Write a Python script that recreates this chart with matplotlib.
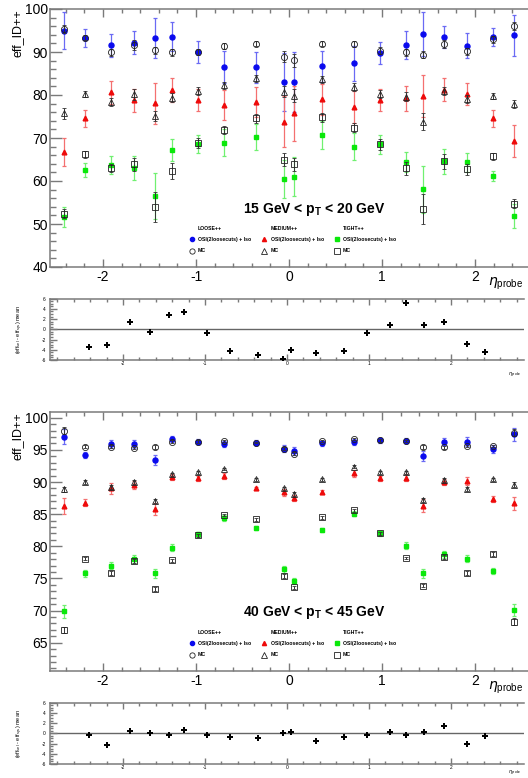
import matplotlib
matplotlib.use("Agg")
import matplotlib.pyplot as plt
from matplotlib.lines import Line2D
from matplotlib.ticker import MultipleLocator

plt.rcParams["font.family"] = ["Liberation Sans", "DejaVu Sans"]
plt.rcParams["axes.unicode_minus"] = False
plt.rcParams["mathtext.fontset"] = "custom"
plt.rcParams["mathtext.rm"] = "Liberation Sans"
plt.rcParams["mathtext.bf"] = "Liberation Sans:bold"

ETA = [-2.42, -2.19, -1.91, -1.665, -1.445, -1.26, -0.975, -0.7, -0.35, -0.05,
       0.05, 0.35, 0.7, 0.975, 1.26, 1.445, 1.665, 1.91, 2.19, 2.42]

# ---- 15 GeV < pT < 20 GeV
lo15 = [94.9, 93.3, 91.6, 92.2, 93.2, 93.6, 90.0, 86.5, 86.4, 83.0, 83.0, 86.7, 87.4, 89.8, 91.6, 94.2, 93.5, 91.5, 93.5, 93.9]
lo15_err = [4.3, 2.1, 2.7, 2.6, 4.7, 3.4, 2.5, 3.7, 3.7, 6.8, 7.0, 3.6, 4.1, 2.6, 3.2, 5.1, 2.6, 2.9, 2.1, 4.8]
lo15_mc = [95.3, 93.3, 89.9, 91.6, 90.4, 89.9, 90.0, 91.4, 91.9, 88.9, 88.1, 91.9, 91.8, 90.3, 89.9, 89.4, 91.9, 90.2, 93.0, 96.0]
lo15_mc_err = [0.9, 0.6, 0.8, 1.2, 0.8, 0.8, 0.7, 0.6, 0.6, 1.3, 1.5, 0.6, 0.7, 0.8, 0.9, 0.8, 0.9, 0.8, 0.8, 0.9]
me15 = [66.7, 74.6, 80.6, 78.8, 78.1, 81.2, 78.8, 77.7, 78.4, 73.8, 75.7, 79.0, 77.3, 78.8, 79.2, 79.8, 81.2, 80.2, 74.6, 69.3]
me15_err = [3.3, 2.0, 2.6, 2.7, 4.8, 2.8, 2.5, 3.5, 3.5, 6.0, 6.5, 3.6, 3.7, 2.5, 2.9, 4.9, 2.7, 2.6, 2.0, 3.8]
me15_mc = [75.7, 80.2, 78.4, 80.2, 75.1, 79.4, 80.9, 82.3, 83.9, 80.8, 79.8, 83.7, 81.8, 80.2, 79.6, 73.8, 80.9, 79.0, 79.8, 77.9]
me15_mc_err = [1.2, 0.7, 0.9, 1.3, 1.2, 1.0, 0.9, 0.8, 0.8, 1.3, 1.5, 0.8, 0.9, 0.9, 1.0, 2.0, 1.0, 0.9, 0.7, 1.0]
ti15 = [51.6, 62.6, 63.7, 63.1, 56.5, 67.2, 68.6, 68.9, 70.3, 60.5, 61.0, 70.7, 68.0, 68.5, 64.5, 58.1, 64.6, 64.4, 61.2, 51.9]
ti15_err = [2.4, 1.7, 2.0, 2.8, 5.4, 2.6, 2.0, 3.1, 3.0, 4.5, 4.6, 3.3, 3.1, 2.2, 2.3, 5.5, 2.9, 2.2, 1.2, 2.8]
ti15_mc = [52.4, 66.2, 63.0, 63.9, 53.9, 62.3, 68.9, 71.9, 74.6, 65.0, 63.9, 74.8, 72.4, 68.5, 63.0, 53.4, 64.6, 62.7, 65.8, 54.7]
ti15_mc_err = [1.0, 0.8, 1.0, 1.5, 3.5, 1.8, 1.2, 1.0, 1.0, 1.5, 1.5, 1.0, 1.0, 1.2, 1.5, 3.5, 1.7, 1.2, 0.8, 1.0]
diff15 = [-3.4, -3.1, 1.5, -0.6, 2.75, 3.45, -0.65, -4.2, -5.1, -5.9, -4.05, -4.7, -4.25, -0.65, 0.85, 5.2, 0.8, 1.5, -2.95, -4.4]

# ---- 40 GeV < pT < 45 GeV
lo40 = [97.05, 94.2, 95.9, 95.9, 93.4, 96.7, 96.3, 95.9, 96.1, 95.2, 94.8, 96.0, 96.2, 96.5, 96.4, 94.1, 96.3, 96.3, 95.1, 97.4]
lo40_err = [1.2, 0.5, 0.6, 0.6, 0.8, 0.5, 0.4, 0.5, 0.4, 0.5, 0.6, 0.4, 0.5, 0.4, 0.4, 0.8, 0.5, 0.7, 0.6, 1.0]
lo40_mc = [98.0, 95.5, 95.5, 95.3, 95.5, 96.3, 96.3, 96.4, 96.1, 95.2, 94.4, 96.4, 96.7, 96.5, 96.4, 95.4, 95.4, 95.6, 95.6, 97.7]
lo40_mc_err = [0.5, 0.2, 0.2, 0.2, 0.3, 0.2, 0.2, 0.2, 0.1, 0.2, 0.2, 0.1, 0.2, 0.2, 0.2, 0.3, 0.2, 0.2, 0.2, 0.5]
me40 = [86.3, 86.8, 89.0, 89.5, 85.8, 90.8, 90.6, 90.9, 89.0, 88.4, 87.5, 88.5, 91.35, 90.6, 90.7, 86.3, 90.05, 90.2, 87.35, 86.7]
me40_err = [1.2, 0.6, 0.8, 0.6, 0.9, 0.5, 0.4, 0.5, 0.3, 0.5, 0.5, 0.3, 0.5, 0.4, 0.5, 1.0, 0.5, 0.6, 0.5, 1.0]
me40_mc = [88.9, 90.05, 89.2, 90.0, 87.0, 91.2, 91.5, 92.0, 90.4, 89.0, 88.1, 90.4, 92.4, 91.5, 91.5, 87.2, 90.3, 88.9, 90.4, 89.6]
me40_mc_err = [0.4, 0.3, 0.3, 0.3, 0.3, 0.2, 0.2, 0.2, 0.2, 0.3, 0.3, 0.2, 0.2, 0.2, 0.2, 0.3, 0.3, 0.3, 0.3, 0.4]
ti40 = [69.9, 75.8, 77.0, 78.0, 75.8, 79.8, 81.9, 84.4, 82.8, 76.4, 74.6, 82.5, 85.1, 82.0, 80.1, 75.8, 78.75, 78.1, 76.2, 70.1]
ti40_err = [1.0, 0.5, 0.6, 0.6, 0.7, 0.5, 0.4, 0.4, 0.3, 0.5, 0.5, 0.3, 0.4, 0.4, 0.5, 0.7, 0.5, 0.6, 0.5, 1.0]
ti40_mc = [67.0, 78.1, 75.8, 77.7, 73.4, 77.8, 81.7, 84.9, 84.2, 75.4, 73.6, 84.5, 85.6, 82.0, 78.2, 73.9, 78.3, 75.8, 78.75, 68.3]
ti40_mc_err = [0.5, 0.3, 0.3, 0.3, 0.3, 0.2, 0.2, 0.2, 0.2, 0.3, 0.3, 0.2, 0.2, 0.2, 0.2, 0.3, 0.3, 0.3, 0.3, 0.5]
diff40 = [-0.25, -2.3, 0.5, 0.1, -0.25, 0.65, -0.25, -0.65, -1.0, 0.1, 0.2, -1.45, -0.65, -0.25, 0.35, -0.25, 0.2, 1.4, -2.1, -0.6]

MENUS = ["LOOSE++", "MEDIUM++", "TIGHT++"]
DATA_LABEL = "OSI(2loosecuts) + Iso"
COLORS = ["#0a0aee", "#ee0a0a", "#0ae80a"]
BAR_COLORS = ["#6a6af4", "#f47070", "#70f070"]
DATA_MARK = [("o", 3.6), ("^", 3.4), ("s", 3.4)]
MC_MARK = [("o", 4.4), ("^", 4.4), ("s", 4.2)]

W, H = 528, 778
FRAME = "#7a7a7a"


def fbox(x0, y0, x1, y1):
    """pixel box (top-left origin) -> figure fraction rect"""
    return [x0 / W, 1 - y1 / H, (x1 - x0) / W, (y1 - y0) / H]


def style_axis(ax, ymaj, ymin, ylen, xlen, lsize):
    for s in ["left", "top", "bottom"]:
        ax.spines[s].set_color(FRAME)
        ax.spines[s].set_linewidth(1.1)
    ax.spines["right"].set_visible(False)
    ax.xaxis.set_major_locator(MultipleLocator(1))
    ax.xaxis.set_minor_locator(MultipleLocator(0.2))
    ax.yaxis.set_major_locator(MultipleLocator(ymaj))
    ax.yaxis.set_minor_locator(MultipleLocator(ymin))
    ax.tick_params(axis="x", which="both", direction="in", top=True, color=FRAME,
                   width=1.0, labelsize=lsize)
    ax.tick_params(axis="x", which="major", length=xlen)
    ax.tick_params(axis="x", which="minor", length=xlen * 0.5)
    ax.tick_params(axis="y", which="both", direction="in", right=False, color=FRAME,
                   width=1.0, labelsize=lsize)
    ax.tick_params(axis="y", which="major", length=ylen)
    ax.tick_params(axis="y", which="minor", length=ylen * 0.5)


def draw_main(ax, series, ylim, ymaj, title, title_y, legend_y, eta_y):
    for i, (d, de, m, me) in enumerate(series):
        mk, ms = DATA_MARK[i]
        ax.errorbar(ETA, d, yerr=de, fmt=mk, ms=ms, color=COLORS[i], mec=COLORS[i],
                    ecolor=BAR_COLORS[i], elinewidth=0.9, capsize=1.3, capthick=0.9, zorder=3)
    for i, (d, de, m, me) in enumerate(series):
        mk, ms = MC_MARK[i]
        ax.errorbar(ETA, m, yerr=me, fmt=mk, ms=ms, mfc="none", mec="#222222", mew=0.6,
                    ecolor="#333333", elinewidth=0.7, capsize=1.3, capthick=0.7, zorder=4)
    ax.set_xlim(-2.57, 2.57)
    ax.set_ylim(*ylim)
    style_axis(ax, ymaj, ymaj / 5, 8.5, 5.8, 10)
    ax.tick_params(axis="y", pad=1.5)
    ax.tick_params(axis="x", pad=2.5)
    ax.set_ylabel("eff_ID++", loc="top", fontsize=9, labelpad=1)

    fig = ax.figure
    fig.text(314 / W, 1 - title_y / H, title, ha="center", va="center",
             fontsize=10, fontweight="bold")

    handles, labels = [], []
    for i, name in enumerate(MENUS):
        handles.append(Line2D([], [], ls="none"))
        labels.append(name)
        handles.append(Line2D([], [], ls="none", marker=DATA_MARK[i][0], ms=3.0,
                              color=COLORS[i]))
        labels.append(DATA_LABEL)
        handles.append(Line2D([], [], ls="none", marker=MC_MARK[i][0], ms=3.8,
                              mfc="none", mec="#222222", mew=0.6))
        labels.append("MC")
    ax.legend(handles, labels, ncol=3, loc="upper left", frameon=False,
              bbox_to_anchor=(189 / W, 1 - legend_y / H), bbox_transform=fig.transFigure,
              prop={"size": 3.7, "weight": "bold"}, borderpad=0, borderaxespad=0,
              handlelength=1.0, handletextpad=0.75, columnspacing=2.0, labelspacing=1.25)
    fig.text(488 / W, 1 - eta_y / H, r"$\eta_{\mathrm{probe}}$",
             ha="left", va="center", fontsize=10)


def draw_diff(ax, diff, xlab_y):
    ax.axhline(0, color="#666666", lw=1.0, zorder=1)
    ax.plot(ETA, diff, ls="none", marker="P", ms=4.8, color="black", mew=0, zorder=3)
    ax.set_xlim(-2.89, 2.89)
    ax.set_ylim(-6, 6)
    style_axis(ax, 2, 0.5, 5, 4, 3.5)
    ax.tick_params(axis="x", pad=0.5)
    ax.tick_params(axis="y", pad=3)
    ax.set_ylabel(r"(eff$_{\rm sel}$ - eff$_{\rm sys}$) mean", fontsize=4, labelpad=12)
    ax.figure.text(508 / W, 1 - xlab_y / H, r"$\eta_{\rm probe}$", fontsize=3.5,
                   ha="left", va="center")


def main():
    fig = plt.figure(figsize=(W / 100, H / 100), dpi=100)
    ax1 = fig.add_axes(fbox(50, 9, 528, 267))
    ax2 = fig.add_axes(fbox(50, 298.7, 524, 360))
    ax3 = fig.add_axes(fbox(50, 412.3, 528, 671))
    ax4 = fig.add_axes(fbox(50, 702.7, 524, 764))

    draw_main(ax1, [(lo15, lo15_err, lo15_mc, lo15_mc_err),
                    (me15, me15_err, me15_mc, me15_mc_err),
                    (ti15, ti15_err, ti15_mc, ti15_mc_err)],
              (40, 100), 10, r"15 GeV < $\mathbf{p_T}$ < 20 GeV", 209, 225.5, 284)
    draw_diff(ax2, diff15, 375)
    draw_main(ax3, [(lo40, lo40_err, lo40_mc, lo40_mc_err),
                    (me40, me40_err, me40_mc, me40_mc_err),
                    (ti40, ti40_err, ti40_mc, ti40_mc_err)],
              (60.6, 100.85), 5, r"40 GeV < $\mathbf{p_T}$ < 45 GeV", 612.7, 629.5, 688)
    draw_diff(ax4, diff40, 773)

    fig.savefig("out.png", dpi=100)


if __name__ == "__main__":
    main()
